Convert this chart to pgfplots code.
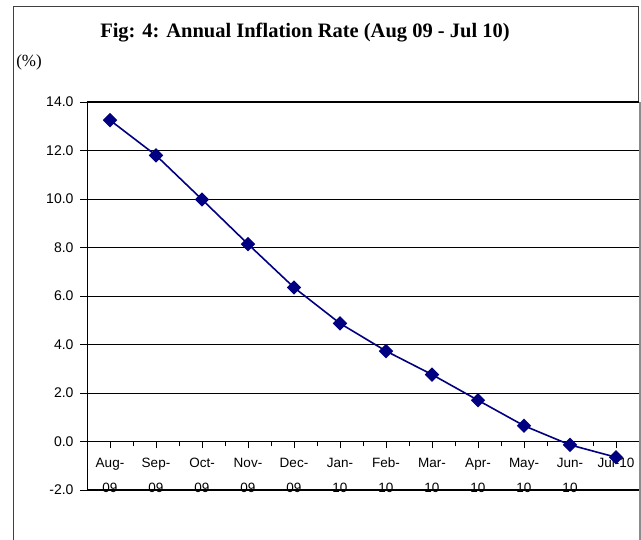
\documentclass[border=0pt]{standalone}
\usepackage{pgfplots}
\pgfplotsset{compat=1.18}
\usepackage{fontspec}
\setmainfont{Liberation Serif}
\newfontfamily\arial{Liberation Sans}
\definecolor{navy}{RGB}{0,0,128}
\begin{document}
\begin{tikzpicture}
\useasboundingbox (0pt,0pt) rectangle (641pt,540pt);
\draw[line width=1pt, black!75] (13pt,0pt) -- (13pt,533pt) -- (638.5pt,533pt) -- (638.5pt,438pt);
\draw[line width=2pt, black!45] (639.5pt,0pt) -- (639.5pt,438pt);
\node[font=\bfseries\fontsize{20.5}{22}\selectfont] at (305pt,507pt) {Fig: 4: Annual Inflation Rate (Aug 09 - Jul 10)};
\node[font=\fontsize{17}{19}\selectfont] at (29pt,478pt) {(\%)};
\begin{axis}[
  at={(87pt,50pt)}, anchor=south west,
  width=552pt, height=388pt, scale only axis,
  xmin=-0.5, xmax=11.5, ymin=-2, ymax=14,
  axis x line*=middle, axis y line*=left,
  axis line style={black, line width=1pt},
  clip=false,
  xtick={0,...,11},
  xticklabels={Aug-\\09,Sep-\\09,Oct-\\09,Nov-\\09,Dec-\\09,Jan-\\10,Feb-\\10,Mar-\\10,Apr-\\10,May-\\10,Jun-\\10,Jul-10},
  minor x tick num=1,
  ytick={-2,0,2,4,6,8,10,12,14},
  yticklabels={-2.0,0.0,2.0,4.0,6.0,8.0,10.0,12.0,14.0},
  ymajorgrids,
  grid style={black, line width=0.8pt},
  tick align=outside,
  major tick length=7pt,
  minor tick length=5pt,
  tick style={black, line width=0.8pt},
  x tick label style={font=\arial\fontsize{13.5}{25}\selectfont, align=center, anchor=north, yshift=-6pt},
  y tick label style={font=\arial\fontsize{14}{15}\selectfont, xshift=-3pt},
]
\draw[black, line width=1pt] (rel axis cs:0,1) -- (rel axis cs:1,1);
\draw[black, line width=1pt] (rel axis cs:0,0) -- (rel axis cs:1,0);
\addplot[navy, line width=1.6pt, mark=square*, mark size=4.3pt, mark options={rotate=45, fill=navy}]
coordinates {
(0,13.25) (1,11.80) (2,9.98) (3,8.14) (4,6.35) (5,4.87) (6,3.73) (7,2.76) (8,1.70) (9,0.65) (10,-0.14) (11,-0.65)
};
\end{axis}
\end{tikzpicture}
\end{document}
